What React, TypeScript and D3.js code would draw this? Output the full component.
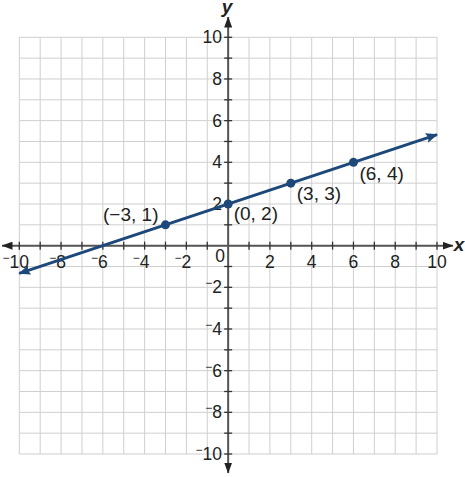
import React from "react";
import * as d3 from "d3";

// points marked on the line
const pointsX = [-3, 0, 3, 6];
const pointsY = [1, 2, 3, 4];
const pointLabels = ["(\u22123, 1)", "(0, 2)", "(3, 3)", "(6, 4)"];

// line ends (arrows)
const lineX = [-10, 10];
const lineY = [-1.33, 5.33];

const gridValues = d3.range(-10, 11, 1);
const tickLabelValues = [-10, -8, -6, -4, -2, 2, 4, 6, 8, 10];

const W = 465;
const H = 477;
const BLUE = "#1d4879";
const AXIS = "#555";
const GRID = "#cfcfcf";
const FONT = "'Liberation Sans', Arial, sans-serif";

const x = d3.scaleLinear().domain([-10, 10]).range([19.3, 437]);
const y = d3.scaleLinear().domain([-10, 10]).range([454, 37.3]);

// label offsets relative to each point: [dx, dy, anchor]
const labelPos: [number, number, string][] = [
  [-7, -3.5, "end"],
  [5.5, 16.5, "start"],
  [6, 17, "start"],
  [6, 18, "start"],
];

const Num = ({ v }: { v: number }) => {
  const digits = String(Math.abs(v));
  return (
    <>
      {v < 0 && (
        <tspan fontSize={12} dy={-6}>
          {"\u2212"}
        </tspan>
      )}
      <tspan fontSize={17.5} dy={v < 0 ? 6 : 0}>
        {digits}
      </tspan>
    </>
  );
};

const App = () => {
  const x0 = x(0);
  const y0 = y(0);
  const digitW = 9.7;

  return (
    <svg
      width={W}
      height={H}
      style={{ position: "absolute", left: 0, top: 0, background: "#fff" }}
      fontFamily={FONT}
    >
      <defs>
        <marker
          id="blueArrow"
          viewBox="0 0 12 10"
          refX={11}
          refY={5}
          markerWidth={12}
          markerHeight={10}
          markerUnits="userSpaceOnUse"
          orient="auto-start-reverse"
        >
          <path d="M0,0 L12,5 L0,10 L2,5 Z" fill={BLUE} />
        </marker>
        <marker
          id="axisArrow"
          viewBox="0 0 11 8"
          refX={10.5}
          refY={4}
          markerWidth={11}
          markerHeight={8}
          markerUnits="userSpaceOnUse"
          orient="auto-start-reverse"
        >
          <path d="M0,0 L11,4 L0,8 Z" fill="#222" />
        </marker>
      </defs>

      {/* grid */}
      <g stroke={GRID} strokeWidth={1}>
        {gridValues.map((v) => (
          <line key={"gx" + v} x1={x(v)} x2={x(v)} y1={y(-10)} y2={y(10)} />
        ))}
        {gridValues.map((v) => (
          <line key={"gy" + v} x1={x(-10)} x2={x(10)} y1={y(v)} y2={y(v)} />
        ))}
      </g>

      {/* axes */}
      <line
        x1={2}
        x2={453}
        y1={y0}
        y2={y0}
        stroke={AXIS}
        strokeWidth={2}
        markerStart="url(#axisArrow)"
        markerEnd="url(#axisArrow)"
      />
      <line
        x1={x0}
        x2={x0}
        y1={473}
        y2={17}
        stroke={AXIS}
        strokeWidth={2}
        markerStart="url(#axisArrow)"
        markerEnd="url(#axisArrow)"
      />

      {/* ticks */}
      <g stroke="#333" strokeWidth={1.3}>
        {gridValues
          .filter((v) => v !== 0)
          .map((v) => (
            <line key={"tx" + v} x1={x(v)} x2={x(v)} y1={y0 - 4} y2={y0 + 4} />
          ))}
        {gridValues
          .filter((v) => v !== 0)
          .map((v) => (
            <line key={"ty" + v} x1={x0 - 4} x2={x0 + 4} y1={y(v)} y2={y(v)} />
          ))}
      </g>

      {/* tick labels */}
      <g fill="#222" fontSize={17.5}>
        {tickLabelValues.map((v) => (
          <text
            key={"lx" + v}
            x={x(v) + (String(Math.abs(v)).length * digitW) / 2}
            y={268}
            textAnchor="end"
          >
            <Num v={v} />
          </text>
        ))}
        {tickLabelValues.map((v) => (
          <text key={"ly" + v} x={222} y={y(v) + 6} textAnchor="end">
            <Num v={v} />
          </text>
        ))}
        <text x={225} y={262} textAnchor="end">
          0
        </text>
      </g>

      {/* axis names */}
      <text
        x={459}
        y={251}
        textAnchor="middle"
        fontSize={19}
        fontStyle="italic"
        fontWeight="bold"
        fill="#222"
      >
        x
      </text>
      <text
        x={227}
        y={13}
        textAnchor="middle"
        fontSize={19}
        fontStyle="italic"
        fontWeight="bold"
        fill="#222"
      >
        y
      </text>

      {/* the line */}
      <line
        x1={x(lineX[0])}
        y1={y(lineY[0])}
        x2={x(lineX[1])}
        y2={y(lineY[1])}
        stroke={BLUE}
        strokeWidth={3}
        markerStart="url(#blueArrow)"
        markerEnd="url(#blueArrow)"
      />

      {/* points */}
      {pointsX.map((px, i) => (
        <circle key={"p" + i} cx={x(px)} cy={y(pointsY[i])} r={4.5} fill={BLUE} />
      ))}

      {/* point labels */}
      <g fill="#222" fontSize={19}>
        {pointsX.map((px, i) => (
          <text
            key={"pl" + i}
            x={x(px) + labelPos[i][0]}
            y={y(pointsY[i]) + labelPos[i][1]}
            textAnchor={labelPos[i][2] as any}
          >
            {pointLabels[i]}
          </text>
        ))}
      </g>
    </svg>
  );
};

export default App;
